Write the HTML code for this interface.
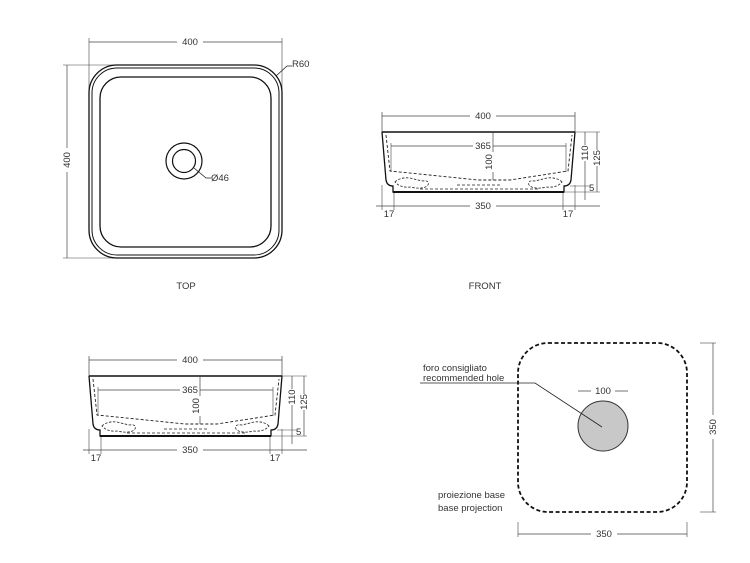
<!DOCTYPE html>
<html><head><meta charset="utf-8"><style>
html,body{margin:0;padding:0;background:#fff;}
svg{display:block;font-family:"Liberation Sans",sans-serif;}
text{fill:#333;font-size:9.5px;}
</style></head><body>
<svg width="750" height="563" viewBox="0 0 750 563" xmlns="http://www.w3.org/2000/svg">
<defs>
<g id="front">
  <!-- dims -->
  <line x1="382" y1="116" x2="575" y2="116" stroke="#444" stroke-width="0.7"/>
  <line x1="382" y1="112" x2="382" y2="132" stroke="#444" stroke-width="0.7"/>
  <line x1="575" y1="112" x2="575" y2="132" stroke="#444" stroke-width="0.7"/>
  <rect x="470" y="110" width="26" height="10" fill="#fff"/>
  <text x="483" y="119" text-anchor="middle">400</text>
  <!-- body -->
  <path d="M382,132 L575,132" stroke="#111" stroke-width="1.6" fill="none"/>
  <path d="M382,132 L386,180 Q387,186 393,186 L393,192 L564,192 L564,186 Q570,186 571,180 L575,132" stroke="#111" stroke-width="1.3" fill="none"/>
  <line x1="393" y1="192" x2="564" y2="192" stroke="#111" stroke-width="2"/>
  <!-- inner dashed -->
  <path d="M386,135 L390,171 L478,180 L510,180 L568,171 L572,135" stroke="#222" stroke-width="0.9" stroke-dasharray="3,2" fill="none"/>
  <path d="M395,182 Q400,177 410,178 L422,181 Q430,180 428,185 Q424,190 410,187 Q400,188 395,182Z" stroke="#222" stroke-width="0.8" stroke-dasharray="2.5,1.5" fill="none"/>
  <path d="M562,182 Q557,177 547,178 L535,181 Q527,180 529,185 Q533,190 547,187 Q557,188 562,182Z" stroke="#222" stroke-width="0.8" stroke-dasharray="2.5,1.5" fill="none"/>
  <path d="M420,189 L540,189" stroke="#222" stroke-width="0.8" stroke-dasharray="3,2"/>
  <path d="M457,185 L500,185" stroke="#222" stroke-width="0.8" stroke-dasharray="3,2"/>
  <!-- 365 -->
  <line x1="391" y1="146" x2="566" y2="146" stroke="#444" stroke-width="0.7"/>
  <line x1="391" y1="143" x2="391" y2="172" stroke="#444" stroke-width="0.6"/>
  <line x1="566" y1="143" x2="566" y2="172" stroke="#444" stroke-width="0.6"/>
  <rect x="473" y="140" width="20" height="10" fill="#fff"/>
  <text x="483" y="149" text-anchor="middle">365</text>
  <!-- 100 -->
  <line x1="493" y1="132" x2="493" y2="180" stroke="#444" stroke-width="0.7"/>
  <rect x="484" y="152" width="10" height="20" fill="#fff"/>
  <text transform="translate(492,162) rotate(-90)" text-anchor="middle">100</text>
  <!-- 350 / 17 -->
  <line x1="376" y1="206" x2="600" y2="206" stroke="#444" stroke-width="0.7"/>
  <line x1="382" y1="185" x2="382" y2="210" stroke="#444" stroke-width="0.6"/>
  <line x1="394" y1="193" x2="394" y2="210" stroke="#444" stroke-width="0.6"/>
  <line x1="563" y1="193" x2="563" y2="210" stroke="#444" stroke-width="0.6"/>
  <line x1="575" y1="185" x2="575" y2="210" stroke="#444" stroke-width="0.6"/>
  <rect x="470" y="200" width="26" height="10" fill="#fff"/>
  <text x="483" y="209" text-anchor="middle">350</text>
  <text x="389" y="217" text-anchor="middle">17</text>
  <text x="568" y="217" text-anchor="middle">17</text>
  <!-- right dims -->
  <line x1="575" y1="132" x2="600" y2="132" stroke="#444" stroke-width="0.6"/>
  <line x1="570" y1="186" x2="590" y2="186" stroke="#444" stroke-width="0.6"/>
  <line x1="565" y1="192" x2="600" y2="192" stroke="#444" stroke-width="0.6"/>
  <line x1="585" y1="132" x2="585" y2="200" stroke="#444" stroke-width="0.7"/>
  <line x1="597" y1="132" x2="597" y2="192" stroke="#444" stroke-width="0.7"/>
  <rect x="580" y="145" width="10" height="16" fill="#fff"/>
  <rect x="592" y="150" width="10" height="16" fill="#fff"/>
  <text transform="translate(588,153) rotate(-90)" text-anchor="middle">110</text>
  <text transform="translate(600,158) rotate(-90)" text-anchor="middle">125</text>
  <text x="589" y="191">5</text>
</g>
</defs>

<!-- TOP VIEW -->
<line x1="89" y1="42" x2="282" y2="42" stroke="#444" stroke-width="0.7"/>
<line x1="89" y1="38" x2="89" y2="95" stroke="#444" stroke-width="0.6"/>
<line x1="282" y1="38" x2="282" y2="95" stroke="#444" stroke-width="0.6"/>
<rect x="177" y="36" width="26" height="10" fill="#fff"/>
<text x="190" y="45" text-anchor="middle">400</text>
<line x1="67" y1="65" x2="67" y2="258" stroke="#444" stroke-width="0.7"/>
<line x1="63" y1="65" x2="118" y2="65" stroke="#444" stroke-width="0.6"/>
<line x1="63" y1="258" x2="118" y2="258" stroke="#444" stroke-width="0.6"/>
<rect x="62" y="148" width="10" height="24" fill="#fff"/>
<text transform="translate(70,160) rotate(-90)" text-anchor="middle">400</text>
<rect x="89" y="65" width="193" height="193" rx="28" fill="none" stroke="#111" stroke-width="1.3"/>
<rect x="92" y="68" width="187" height="187" rx="25" fill="none" stroke="#111" stroke-width="1"/>
<rect x="100" y="77" width="171" height="170" rx="21" fill="none" stroke="#111" stroke-width="1.3"/>
<circle cx="184" cy="161" r="18" fill="none" stroke="#111" stroke-width="1.2"/>
<circle cx="184" cy="161" r="11.5" fill="none" stroke="#111" stroke-width="1.2"/>
<path d="M194,168 L206,178 L211,178" stroke="#222" stroke-width="0.8" fill="none"/>
<text x="211" y="181">Ø46</text>
<path d="M276,76 L287,66 L292,66" stroke="#222" stroke-width="0.8" fill="none"/>
<text x="292" y="67">R60</text>
<text x="186" y="289" text-anchor="middle">TOP</text>
<text x="485" y="289" text-anchor="middle">FRONT</text>

<use href="#front"/>
<use href="#front" transform="translate(-293,244)"/>

<!-- PLAN -->
<rect x="518" y="343" width="169" height="169" rx="30" fill="none" stroke="#111" stroke-width="1.8" stroke-dasharray="4,2.5"/>
<circle cx="603" cy="426" r="25" fill="#c8c8c8" stroke="#333" stroke-width="1"/>
<line x1="578" y1="391" x2="628" y2="391" stroke="#444" stroke-width="0.7"/>
<rect x="591" y="385" width="24" height="10" fill="#fff"/>
<text x="603" y="394" text-anchor="middle">100</text>
<path d="M420,383 L535,383 L602,427" stroke="#222" stroke-width="0.8" fill="none"/>
<text x="423" y="371">foro consigliato</text>
<text x="423" y="381">recommended hole</text>
<text x="438" y="498">proiezione base</text>
<text x="438" y="511">base projection</text>
<line x1="713" y1="343" x2="713" y2="512" stroke="#444" stroke-width="0.7"/>
<line x1="700" y1="343" x2="716" y2="343" stroke="#444" stroke-width="0.6"/>
<line x1="700" y1="512" x2="716" y2="512" stroke="#444" stroke-width="0.6"/>
<rect x="708" y="415" width="10" height="24" fill="#fff"/>
<text transform="translate(716,427) rotate(-90)" text-anchor="middle">350</text>
<line x1="518" y1="534" x2="687" y2="534" stroke="#444" stroke-width="0.7"/>
<line x1="518" y1="522" x2="518" y2="537" stroke="#444" stroke-width="0.6"/>
<line x1="687" y1="522" x2="687" y2="537" stroke="#444" stroke-width="0.6"/>
<rect x="591" y="528" width="26" height="10" fill="#fff"/>
<text x="604" y="537" text-anchor="middle">350</text>
</svg>
</body></html>
